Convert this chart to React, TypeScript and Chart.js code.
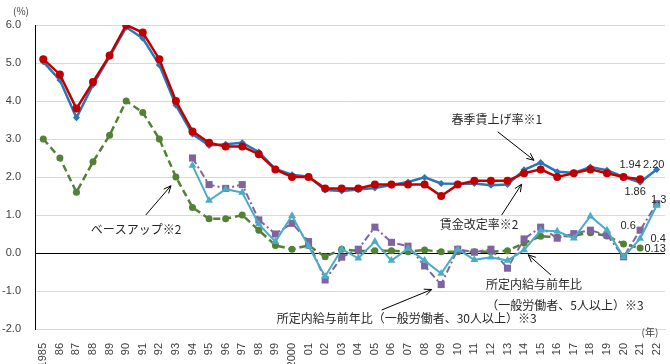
import React, { useEffect, useRef } from 'react';
import { Chart, registerables } from 'chart.js';

Chart.register(...registerables);

const years = ['1985','86','87','88','89','90','91','92','93','94','95','96','97','98','99','2000','01','02','03','04','05','06','07','08','09','10','11','12','13','14','15','16','17','18','19','20','21','22'];

const springWageRate = [5.03,4.55,3.56,4.43,5.17,5.94,5.65,4.95,3.89,3.13,2.83,2.86,2.90,2.66,2.21,2.06,2.01,1.66,1.63,1.67,1.71,1.79,1.87,1.99,1.83,1.82,1.83,1.78,1.80,2.19,2.38,2.14,2.11,2.26,2.18,2.00,1.86,2.20];

const wageRevisionRate = [5.1,4.7,3.8,4.5,5.2,6.0,5.8,5.1,4.0,3.2,2.9,2.8,2.8,2.6,2.2,2.0,2.0,1.7,1.7,1.7,1.8,1.8,1.8,1.8,1.5,1.8,1.9,1.9,1.9,2.1,2.2,2.0,2.1,2.2,2.1,2.0,1.94,null];

const baseUp = [3.0,2.5,1.6,2.4,3.1,4.0,3.7,3.0,2.0,1.2,0.9,0.9,1.0,0.6,0.2,0.1,0.2,-0.1,0.1,0.05,0.06,0.06,0.03,0.08,0.03,0.03,0.03,0.03,0.06,0.26,0.44,0.42,0.46,0.53,0.45,0.24,0.13,null];

const scheduledPay30 = [null,null,null,null,null,null,null,null,null,2.5,1.8,1.7,1.8,0.87,0.5,0.78,0.3,-0.71,-0.11,0.1,0.68,0.28,0.18,-0.34,-0.83,0.1,0.02,0.1,-0.4,0.37,0.68,0.39,0.51,0.6,0.47,-0.1,0.6,1.3];

const scheduledPay5 = [null,null,null,null,null,null,null,null,null,2.3,1.38,1.68,1.59,0.76,0.3,0.98,0.18,-0.62,0.1,-0.14,0.3,-0.2,0.12,-0.2,-0.54,0.1,-0.18,-0.11,-0.2,0.08,0.59,0.57,0.39,0.97,0.6,-0.1,0.38,1.25];

const yTicks = [-2, -1, 0, 1, 2, 3, 4, 5, 6];

// value labels: dataset index, point index, text, offset
const valueLabels = [
  { ds: 0, i: 36, text: '1.94', dx: -10, dy: -14 },
  { ds: 1, i: 37, text: '2.20', dx: -3, dy: -4 },
  { ds: 1, i: 36, text: '1.86', dx: -5, dy: 10 },
  { ds: 3, i: 37, text: '1.3', dx: 2, dy: -4 },
  { ds: 3, i: 36, text: '0.6', dx: -12, dy: -4 },
  { ds: 2, i: 36, text: '0.4', dx: 18, dy: 0 },
  { ds: 4, i: 36, text: '0.13', dx: 15, dy: 1 },
];

// annotations in data coordinates: [category index, value]
const annotations = [
  { text: '春季賃上げ率※1', at: [27.35, 3.52], from: [27.41, 3.19], to: [29.6, 2.44] },
  { text: 'ベースアップ※2', at: [5.59, 0.63], from: [6.18, 1.0], to: [7.7, 1.77] },
  { text: '賃金改定率※2', at: [26.28, 0.74], from: [27.65, 1.0], to: [28.85, 1.81] },
  { text: '所定内給与前年比', at: [29.6, -0.82], from: [30.62, -0.58], to: [29.25, -0.05] },
  { text: '（一般労働者、5人以上）※3', at: [31.47, -1.37] },
  { text: '所定内給与前年比（一般労働者、30人以上）※3', at: [21.92, -1.71], from: [20.41, -1.5], to: [23.43, -0.96] },
];

const CJK = '"Noto Sans CJK JP", "Noto Sans", sans-serif';
const NUM = '"Liberation Sans", Arial, sans-serif';

const overlayPlugin = {
  id: 'overlay',
  afterDatasetsDraw(chart: any) {
    const ctx = chart.ctx;
    const xs = chart.scales.x;
    const ys = chart.scales.y;
    const px = (p: number[]) => [xs.getPixelForValue(p[0]), ys.getPixelForValue(p[1])];
    ctx.save();
    // value labels
    ctx.font = `11px ${NUM}`;
    ctx.fillStyle = '#262626';
    ctx.textAlign = 'center';
    ctx.textBaseline = 'middle';
    valueLabels.forEach((l) => {
      const el = chart.getDatasetMeta(l.ds).data[l.i];
      if (!el) return;
      ctx.fillText(l.text, el.x + l.dx, el.y + l.dy);
    });
    // annotations
    ctx.font = `12px ${CJK}`;
    annotations.forEach((a) => {
      const [tx, ty] = px(a.at);
      ctx.fillStyle = '#262626';
      ctx.fillText(a.text, tx, ty);
      if (a.from && a.to) {
        const [x1, y1] = px(a.from);
        const [x2, y2] = px(a.to);
        ctx.strokeStyle = '#000';
        ctx.lineWidth = 1;
        ctx.beginPath();
        ctx.moveTo(x1, y1);
        ctx.lineTo(x2, y2);
        const ang = Math.atan2(y2 - y1, x2 - x1);
        const hl = 8;
        const spread = 0.42;
        ctx.moveTo(x2 - hl * Math.cos(ang - spread), y2 - hl * Math.sin(ang - spread));
        ctx.lineTo(x2, y2);
        ctx.lineTo(x2 - hl * Math.cos(ang + spread), y2 - hl * Math.sin(ang + spread));
        ctx.stroke();
      }
    });
    // unit labels
    const area = chart.chartArea;
    ctx.font = `10px ${CJK}`;
    ctx.fillStyle = '#404040';
    ctx.fillText('(%)', area.left - 14, area.top - 14);
    ctx.fillText('(年)', area.right - 15, area.bottom + 3);
    ctx.restore();
  },
};

export default function App() {
  const ref = useRef<HTMLCanvasElement | null>(null);
  useEffect(() => {
    if (!ref.current) return;
    const chart = new Chart(ref.current, {
      type: 'line',
      data: {
        labels: years,
        datasets: [
          {
            label: '賃金改定率※2',
            data: wageRevisionRate,
            borderColor: '#C00000',
            backgroundColor: '#C00000',
            borderWidth: 2.5,
            pointStyle: 'circle',
            pointRadius: 4,
            pointBorderWidth: 0,
            tension: 0,
          },
          {
            label: '春季賃上げ率※1',
            data: springWageRate,
            borderColor: '#2E75B6',
            backgroundColor: '#2E75B6',
            borderWidth: 2.5,
            pointStyle: 'rectRot',
            pointRadius: 3.5,
            pointBorderWidth: 0,
            tension: 0,
          },
          {
            label: '所定内給与前年比（5人以上）',
            data: scheduledPay5,
            borderColor: '#4BACC6',
            backgroundColor: '#4BACC6',
            borderWidth: 2,
            pointStyle: 'triangle',
            pointRadius: 4.5,
            pointBorderWidth: 0,
            tension: 0,
          },
          {
            label: '所定内給与前年比（30人以上）',
            data: scheduledPay30,
            borderColor: '#8064A2',
            backgroundColor: '#8064A2',
            borderWidth: 2,
            borderDash: [7, 3, 2, 3],
            pointStyle: 'rect',
            pointRadius: 5,
            pointBorderWidth: 0,
            tension: 0,
          },
          {
            label: 'ベースアップ※2',
            data: baseUp,
            borderColor: '#538135',
            backgroundColor: '#538135',
            borderWidth: 2.5,
            borderDash: [7, 4],
            pointStyle: 'circle',
            pointRadius: 3.5,
            pointBorderWidth: 0,
            tension: 0,
          },
        ],
      },
      options: {
        animation: false,
        responsive: false,
        maintainAspectRatio: false,
        layout: { padding: { top: 25, right: 5, left: 0, bottom: 0 } },
        plugins: {
          legend: { display: false },
          tooltip: { enabled: false },
        },
        scales: {
          x: {
            type: 'category',
            offset: true,
            grid: { display: false },
            border: { color: '#d9d9d9', width: 1 },
            ticks: {
              autoSkip: false,
              minRotation: 90,
              maxRotation: 90,
              padding: 6,
              color: '#404040',
              font: { size: 11, family: NUM },
            },
            afterFit: (s: any) => {
              s.height = 35;
              s.paddingLeft = 0;
              s.paddingRight = 0;
            },
          },
          y: {
            min: -2,
            max: 6,
            afterBuildTicks: (s: any) => {
              s.ticks = yTicks.map((v) => ({ value: v }));
            },
            ticks: {
              padding: 14,
              color: '#404040',
              font: { size: 11, family: NUM },
              callback: (v: any) => Number(v).toFixed(1),
            },
            grid: {
              drawTicks: false,
              color: (c: any) => (c.tick && c.tick.value === 0 ? '#000000' : '#d9d9d9'),
              lineWidth: 1,
            },
            border: { color: '#000000', width: 1 },
            afterFit: (s: any) => {
              s.width = 35;
              s.paddingTop = 0;
              s.paddingBottom = 0;
            },
          },
        },
      },
      plugins: [overlayPlugin],
    });
    return () => chart.destroy();
  }, []);
  return (
    <div style={{ position: 'absolute', left: 0, top: 0, width: 670, height: 364 }}>
      <canvas ref={ref} width={670} height={364} />
    </div>
  );
}
